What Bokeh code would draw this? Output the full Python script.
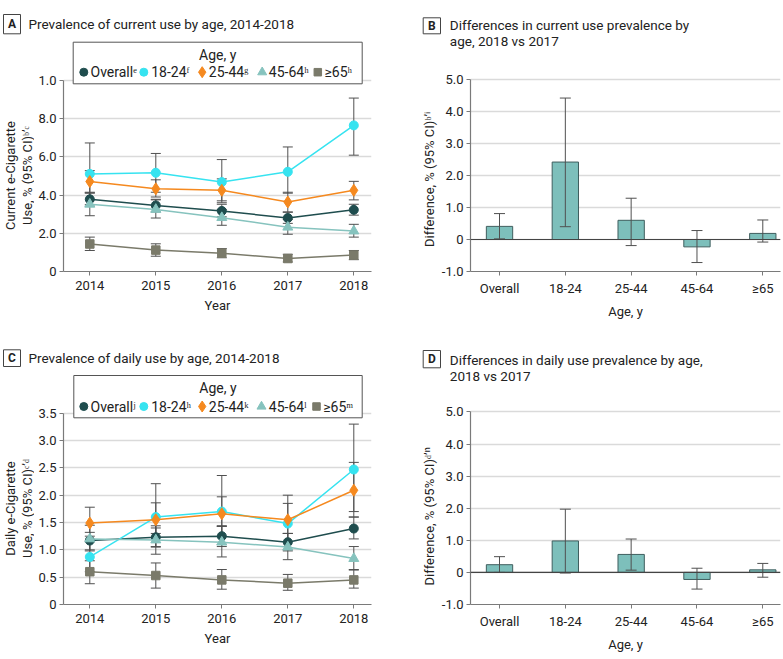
import math
from bokeh.plotting import figure
from bokeh.layouts import column, row
from bokeh.models import Range1d, FixedTicker, Label, Span
from bokeh.embed import file_html
from bokeh.resources import INLINE

FONT = "Roboto"

# ---------------- data ----------------
years = [2014, 2015, 2016, 2017, 2018]

# Panel A: current use prevalence (%)
cur_overall = [3.78, 3.46, 3.17, 2.80, 3.23]
cur_overall_lo = [3.42, 3.12, 2.86, 2.52, 2.95]
cur_overall_hi = [4.12, 3.78, 3.52, 3.10, 3.52]
cur_18_24 = [5.11, 5.17, 4.68, 5.22, 7.65]
cur_18_24_lo = [3.50, 4.15, 3.60, 4.10, 6.09]
cur_18_24_hi = [6.73, 6.18, 5.86, 6.52, 9.08]
cur_25_44 = [4.71, 4.33, 4.25, 3.64, 4.25]
cur_25_44_lo = [4.15, 3.90, 3.70, 3.12, 3.75]
cur_25_44_hi = [5.28, 4.80, 4.85, 4.15, 4.72]
cur_45_64 = [3.52, 3.25, 2.82, 2.32, 2.12]
cur_45_64_lo = [2.92, 2.80, 2.42, 1.95, 1.80]
cur_45_64_hi = [4.10, 3.75, 3.25, 2.72, 2.47]
cur_65 = [1.44, 1.12, 0.96, 0.68, 0.86]
cur_65_lo = [1.10, 0.80, 0.72, 0.50, 0.62]
cur_65_hi = [1.80, 1.45, 1.20, 0.90, 1.10]

# Panel C: daily use prevalence (%)
day_overall = [1.17, 1.23, 1.25, 1.14, 1.39]
day_overall_lo = [1.00, 1.06, 1.06, 0.98, 1.20]
day_overall_hi = [1.32, 1.40, 1.44, 1.30, 1.60]
day_18_24 = [0.87, 1.60, 1.70, 1.48, 2.47]
day_18_24_lo = [0.60, 1.05, 1.10, 1.00, 1.70]
day_18_24_hi = [1.15, 2.21, 2.36, 2.00, 3.30]
day_25_44 = [1.49, 1.55, 1.66, 1.55, 2.09]
day_25_44_lo = [1.25, 1.30, 1.43, 1.30, 1.60]
day_25_44_hi = [1.78, 1.86, 1.97, 1.85, 2.60]
day_45_64 = [1.20, 1.18, 1.14, 1.05, 0.84]
day_45_64_lo = [0.98, 0.92, 0.87, 0.82, 0.64]
day_45_64_hi = [1.45, 1.44, 1.43, 1.30, 1.06]
day_65 = [0.60, 0.53, 0.45, 0.39, 0.45]
day_65_lo = [0.38, 0.30, 0.28, 0.26, 0.30]
day_65_hi = [0.80, 0.76, 0.64, 0.55, 0.63]

# Panels B, D: differences 2018 vs 2017
age_groups = ["Overall", "18-24", "25-44", "45-64", "≥65"]
cur_diff = [0.41, 2.42, 0.60, -0.23, 0.19]
cur_diff_lo = [0.02, 0.40, -0.19, -0.72, -0.08]
cur_diff_hi = [0.81, 4.42, 1.29, 0.28, 0.61]
day_diff = [0.24, 0.98, 0.56, -0.22, 0.08]
day_diff_lo = [0.00, -0.02, 0.07, -0.52, -0.15]
day_diff_hi = [0.49, 1.97, 1.04, 0.13, 0.28]

cur_yticks = [0, 2, 4, 6, 8, 10]
cur_ylabels = ["0", "2.0", "4.0", "6.0", "8.0", "1.0"]
day_yticks = [0, 0.5, 1.0, 1.5, 2.0, 2.5, 3.0, 3.5]
day_ylabels = ["0", "0.5", "1.0", "1.5", "2.0", "2.5", "3.0", "3.5"]
diff_yticks = [-1, 0, 1, 2, 3, 4, 5]
diff_ylabels = ["-1.0", "0", "1.0", "2.0", "3.0", "4.0", "5.0"]

cur_legend = ["Overall\u1d49", "18-24\u1da0", "25-44\u1d4d", "45-64\u02b0", "\u226565\u02b0"]
day_legend = ["Overall\u02b2", "18-24\u02b0", "25-44\u1d4f", "45-64\u02e1", "\u226565\u1d50"]

# ---------------- styles ----------------
COLORS = ["#1f4d4e", "#36e3f0", "#f5891f", "#86c3be", "#7a7a6a"]
MARKERS = ["circle", "circle", "diamond", "triangle", "square"]
SIZES = [9, 9, 12, 10, 8.5]
GRID = "#dadada"
AXIS = "#7a7a7a"
ERR = "#505050"
BAR = "#7dbfbb"
BAR_EDGE = "#3f5e5e"
TXT = "#222222"
BOX = "#555555"


class Frame:
    """map page pixels to data coordinates of a panel"""
    def __init__(self, px0, px1, py0, py1, xs, xe, ys, ye):
        self.px0, self.px1, self.py0, self.py1 = px0, px1, py0, py1
        self.xs, self.xe, self.ys, self.ye = xs, xe, ys, ye

    def X(self, px):
        return self.xs + (px - self.px0) / (self.px1 - self.px0) * (self.xe - self.xs)

    def Y(self, py):
        return self.ys + (self.py1 - py) / (self.py1 - self.py0) * (self.ye - self.ys)


def make_fig(w, h, bl, br, bb, fr):
    p = figure(width=w, height=h, x_range=Range1d(fr.xs, fr.xe), y_range=Range1d(fr.ys, fr.ye),
               output_backend="svg", toolbar_location=None, title=None, frame_align=False,
               min_border_left=bl, min_border_right=br, min_border_top=0, min_border_bottom=bb)
    p.outline_line_color = None
    p.background_fill_color = "white"
    p.border_fill_color = "white"
    p.xgrid.visible = False
    p.ygrid.grid_line_color = GRID
    p.ygrid.grid_line_width = 1.3
    for ax in (p.xaxis[0], p.yaxis[0]):
        ax.axis_line_color = AXIS
        ax.axis_line_width = 1.2
        ax.major_tick_line_color = AXIS
        ax.major_tick_in = 0
        ax.major_tick_out = 4
        ax.minor_tick_line_color = None
        ax.major_label_text_font = FONT
        ax.major_label_text_font_size = "13px"
        ax.major_label_text_color = TXT
        ax.axis_label_text_font = FONT
        ax.axis_label_text_font_size = "13px"
        ax.axis_label_text_font_style = "normal"
        ax.axis_label_text_color = TXT
    p.yaxis.major_label_standoff = 3
    p.xaxis.major_label_standoff = 5
    p.xaxis.axis_label_standoff = 5
    return p


def blank(w, h, ox, oy):
    """a strip with no axes whose data coordinates are page pixels"""
    p = figure(width=w, height=h, x_range=Range1d(ox, ox + w), y_range=Range1d(oy + h, oy),
               output_backend="svg", toolbar_location=None, title=None, frame_align=False,
               x_axis_type=None, y_axis_type=None,
               min_border_left=0, min_border_right=0, min_border_top=0, min_border_bottom=0)
    p.outline_line_color = None
    p.grid.visible = False
    p.background_fill_color = "white"
    p.border_fill_color = "white"
    return p


def header(w, h, ox, oy, badge_box, letter, lines):
    p = blank(w, h, ox, oy)
    x0, x1, y0, y1 = badge_box
    p.quad(left=x0, right=x1, top=y0, bottom=y1, fill_color="white", line_color="#444444", line_width=1)
    p.add_layout(Label(x=(x0 + x1) / 2, y=(y0 + y1) / 2, text=letter, text_font=FONT,
                       text_font_size="12px", text_font_style="bold", text_align="center",
                       text_baseline="middle", text_color=TXT))
    for (tx, ty, txt) in lines:
        p.add_layout(Label(x=tx, y=ty, text=txt, text_font=FONT, text_font_size="13.5px",
                           text_align="left", text_baseline="middle", text_color=TXT))
    return p


def ylabel_strip(w, h, ox, oy, lines):
    p = blank(w, h, ox, oy)
    for (tx, ty, txt) in lines:
        p.add_layout(Label(x=tx, y=ty, text=txt, text_font=FONT, text_font_size="13px",
                           text_align="center", text_baseline="middle", text_color=TXT,
                           angle=math.pi / 2))
    return p


def add_text(p, fr, px, py, text, size="14px", align="left"):
    p.add_layout(Label(x=fr.X(px), y=fr.Y(py), text=text, text_font=FONT, text_font_size=size,
                       text_align=align, text_baseline="middle", text_color=TXT))


def error_bars(p, x, lo, hi, cap=10):
    p.segment(x0=x, y0=lo, x1=x, y1=hi, line_color=ERR, line_width=1)
    p.scatter(x=x, y=lo, marker="dash", size=cap, line_color=ERR, line_width=1)
    p.scatter(x=x, y=hi, marker="dash", size=cap, line_color=ERR, line_width=1)


def line_panel(p, fr, series, yticks, ylabels, legend_labels, leg):
    p.yaxis.ticker = FixedTicker(ticks=yticks)
    p.yaxis.major_label_overrides = {t: l for t, l in zip(yticks, ylabels)}
    p.yaxis.bounds = (yticks[0], yticks[-1])
    p.xaxis.ticker = FixedTicker(ticks=years)
    p.xaxis.axis_label = "Year"
    for (vals, lo, hi) in series:
        error_bars(p, years, lo, hi)
    for i, (vals, lo, hi) in enumerate(series):
        p.line(years, vals, line_color=COLORS[i], line_width=1.5)
        p.scatter(years, vals, marker=MARKERS[i], size=SIZES[i], fill_color=COLORS[i],
                  line_color=COLORS[i])
    bx0, bx1, by0, by1, ty, ey, mxs, txs = leg
    p.quad(left=fr.X(bx0), right=fr.X(bx1), top=fr.Y(by0), bottom=fr.Y(by1),
           fill_color="white", line_color=BOX, line_width=1)
    add_text(p, fr, (bx0 + bx1) / 2, ty, "Age, y", size="14px", align="center")
    for i, lab in enumerate(legend_labels):
        p.scatter([fr.X(mxs[i])], [fr.Y(ey)], marker=MARKERS[i], size=SIZES[i] - 1,
                  fill_color=COLORS[i], line_color=COLORS[i])
        add_text(p, fr, txs[i], ey, lab, size="14px")


def bar_panel(p, diff, lo, hi):
    xs = list(range(len(age_groups)))
    p.yaxis.ticker = FixedTicker(ticks=diff_yticks)
    p.yaxis.major_label_overrides = {t: l for t, l in zip(diff_yticks, diff_ylabels)}
    p.yaxis.bounds = (diff_yticks[0], diff_yticks[-1])
    p.xaxis.ticker = FixedTicker(ticks=xs)
    p.xaxis.major_label_overrides = {i: g for i, g in enumerate(age_groups)}
    p.xaxis.axis_label = "Age, y"
    p.vbar(x=xs, top=diff, bottom=0, width=0.4, fill_color=BAR, line_color=BAR_EDGE, line_width=1)
    error_bars(p, xs, lo, hi, cap=11)
    p.add_layout(Span(location=0, dimension="width", line_color="#444444", line_width=1.2))


# ---------------- panel A ----------------
hA = header(400, 36, 0, 0, (3, 20, 14, 33.3), "A",
            [(28, 23.3, "Prevalence of current use by age, 2014-2018")])
sA = ylabel_strip(34, 294, 0, 36, [(10, 175, "Current e-Cigarette"),
                                   (27, 175, "Use, % (95% CI)\u1d47\u02bc\u1d9c")])
frA = Frame(63, 371, 36, 271, 2014 - 26.3 / 66, 2018 + 17.7 / 66, 0, 235 / 19.1)
pA = make_fig(366, 294, 29, 29, 59, frA)
line_panel(pA, frA,
           [(cur_overall, cur_overall_lo, cur_overall_hi), (cur_18_24, cur_18_24_lo, cur_18_24_hi),
            (cur_25_44, cur_25_44_lo, cur_25_44_hi), (cur_45_64, cur_45_64_lo, cur_45_64_hi),
            (cur_65, cur_65_lo, cur_65_hi)],
           cur_yticks, cur_ylabels, cur_legend,
           (72.7, 361.7, 41.7, 83.3, 54, 71.7,
            [83.3, 143.3, 201.7, 261.7, 317.3], [90, 150.7, 208.3, 268.3, 324]))

# ---------------- panel B ----------------
hB = header(383, 52, 400, 0, (422.7, 440, 17.3, 33.3), "B",
            [(449.3, 24, "Differences in current use prevalence by"),
             (449.3, 40.7, "age, 2018 vs 2017")])
sB = ylabel_strip(38, 278, 400, 52, [(429.3, 179, "Difference, % (95% CI)\u1d47\u02bc\u2071")])
frB = Frame(470, 780, 52, 271, -29 / 65.8, 4 + 17.7 / 65.8, -1, -1 + 219 / 32)
pB = make_fig(345, 278, 32, 3, 59, frB)
bar_panel(pB, cur_diff, cur_diff_lo, cur_diff_hi)

# ---------------- panel C ----------------
hC = header(400, 40, 0, 330, (3, 20, 349.3, 366), "C",
            [(28, 357.7, "Prevalence of daily use by age, 2014-2018")])
sC = ylabel_strip(34, 289, 0, 370, [(10, 508, "Daily e-Cigarette"),
                                    (27, 508, "Use, % (95% CI)\u1d9c\u02bc\u1d48")])
frC = Frame(63, 371, 370, 604, 2014 - 26.3 / 66, 2018 + 17.7 / 66, 0, 234 / 54.66)
pC = make_fig(366, 289, 29, 29, 55, frC)
line_panel(pC, frC,
           [(day_overall, day_overall_lo, day_overall_hi), (day_18_24, day_18_24_lo, day_18_24_hi),
            (day_25_44, day_25_44_lo, day_25_44_hi), (day_45_64, day_45_64_lo, day_45_64_hi),
            (day_65, day_65_lo, day_65_hi)],
           day_yticks, day_ylabels, day_legend,
           (73.3, 361.7, 375, 417.3, 387.7, 406,
            [83.3, 143.3, 201.7, 261.0, 316.0], [90, 150.7, 208.3, 268.3, 322.7]))

# ---------------- panel D ----------------
hD = header(383, 56, 400, 330, (422.7, 440, 350, 367.3), "D",
            [(449.3, 359.3, "Differences in daily use prevalence by age,"),
             (449.3, 375, "2018 vs 2017")])
sD = ylabel_strip(38, 273, 400, 386, [(429.3, 515.7, "Difference, % (95% CI)\u1d48\u02bc\u207f")])
frD = Frame(470, 780, 386, 604, -29 / 65.8, 4 + 17.7 / 65.8, -1, -1 + 218 / 32.1)
pD = make_fig(345, 273, 32, 3, 55, frD)
bar_panel(pD, day_diff, day_diff_lo, day_diff_hi)

layout = column(
    row(column(hA, row(sA, pA)), column(hB, row(sB, pB))),
    row(column(hC, row(sC, pC)), column(hD, row(sD, pD))),
)
open("out.html", "w").write(file_html(layout, INLINE))
